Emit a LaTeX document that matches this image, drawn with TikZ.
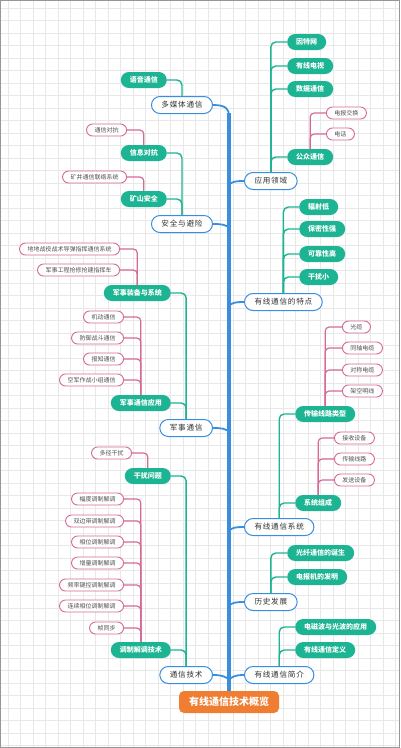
\documentclass[tikz,border=0pt]{standalone}
\usepackage{fontspec}
\setmainfont{Noto Sans CJK SC}
\newfontfamily\spacedcjk{Noto Sans CJK SC}[LetterSpace=10]
\definecolor{cblue}{RGB}{58,142,222}
\definecolor{cteal}{RGB}{28,180,146}
\definecolor{cpink}{RGB}{214,105,150}
\definecolor{corange}{RGB}{240,126,50}
\definecolor{cgrid}{RGB}{232,232,232}
\definecolor{cborder}{RGB}{150,150,150}
\definecolor{ctext}{RGB}{50,50,50}
\definecolor{csmall}{RGB}{80,80,80}
\pgfdeclarelayer{bg}
\pgfdeclarelayer{edges}
\pgfsetlayers{bg,edges,main}
\begin{document}
\begin{tikzpicture}[x=1pt,y=-1pt,
 lone/.style={draw=cblue, fill=white, line width=1pt, rounded corners=8.5pt, minimum height=17pt, inner xsep=10pt, inner ysep=0pt, font=\spacedcjk\fontsize{7.6}{9}\selectfont, text=ctext},
 ltwo/.style={fill=cteal, rounded corners=8pt, minimum height=16pt, inner xsep=9pt, inner ysep=0pt, font=\fontsize{7}{8}\selectfont\bfseries, text=white},
 lthree/.style={draw=cpink, fill=white, line width=0.9pt, rounded corners=6pt, minimum height=12pt, inner xsep=8pt, inner ysep=0pt, font=\fontsize{6}{7}\selectfont, text=csmall},
 rootn/.style={fill=corange, rounded corners=5pt, minimum height=22pt, inner xsep=10pt, inner ysep=0pt, font=\fontsize{10}{11}\selectfont\bfseries, text=white},
 eteal/.style={draw=cteal, line width=1.4pt, rounded corners=5pt},
 epink/.style={draw=cpink, line width=1.2pt, rounded corners=4pt},
 eblue/.style={draw=cblue, line width=1.8pt},
 espine/.style={draw=cblue, line width=4.5pt},
]
\useasboundingbox (0,0) rectangle (400,748);
\begin{pgfonlayer}{bg}
  \fill[white] (0,0) rectangle (400,748);
  \foreach \x in {8,20.5,...,400} \draw[cgrid, line width=0.6pt] (\x,0) -- (\x,748);
  \foreach \y in {8,20.5,...,748} \draw[cgrid, line width=0.6pt] (0,\y) -- (400,\y);
  \draw[cborder, line width=1pt] (0.5,0.5) rectangle (399.5,747.5);
\end{pgfonlayer}

% root
\node[rootn] (root) at (229,702) {有线通信技术概览};

% level 1
\node[lone, anchor=east] (m1) at (213,105) {多媒体通信};
\node[lone, anchor=east] (m3) at (213,224) {安全与避险};
\node[lone, anchor=east] (m5) at (213,428) {军事通信};
\node[lone, anchor=east] (m8) at (213,675) {通信技术};
\node[lone, anchor=west] (m2) at (244,181) {应用领域};
\node[lone, anchor=west] (m4) at (244,302) {有线通信的特点};
\node[lone, anchor=west] (m6) at (244,527) {有线通信系统};
\node[lone, anchor=west] (m7) at (244,602) {历史发展};
\node[lone, anchor=west] (m9) at (244,675) {有线通信简介};

% level 2 left
\node[ltwo, anchor=east] (a1) at (167,80) {语音通信};
\node[ltwo, anchor=east] (b1) at (167,153) {信息对抗};
\node[ltwo, anchor=east] (b2) at (167,199) {矿山安全};
\node[ltwo, anchor=east] (d1) at (171,293) {军事装备与系统};
\node[ltwo, anchor=east] (d2) at (171,403) {军事通信应用};
\node[ltwo, anchor=east] (g1) at (171,476) {干扰问题};
\node[ltwo, anchor=east] (g2) at (171,650) {调制解调技术};
% level 2 right
\node[ltwo, anchor=west] (c1) at (287,42) {因特网};
\node[ltwo, anchor=west] (c2) at (287,66) {有线电视};
\node[ltwo, anchor=west] (c3) at (287,89) {数据通信};
\node[ltwo, anchor=west] (c4) at (287,157) {公众通信};
\node[ltwo, anchor=west] (e1) at (299,207) {辐射低};
\node[ltwo, anchor=west] (e2) at (299,229) {保密性强};
\node[ltwo, anchor=west] (e3) at (299,254) {可靠性高};
\node[ltwo, anchor=west] (e4) at (299,277) {干扰小};
\node[ltwo, anchor=west] (f1) at (295,414) {传输线路类型};
\node[ltwo, anchor=west] (f2) at (295,503) {系统组成};
\node[ltwo, anchor=west] (h1) at (287,553) {光纤通信的诞生};
\node[ltwo, anchor=west] (h2) at (287,577) {电报机的发明};
\node[ltwo, anchor=west] (i1) at (295,627) {电磁波与光波的应用};
\node[ltwo, anchor=west] (i2) at (295,650) {有线通信定义};

% level 3
\node[lthree, anchor=west] (c4a) at (326,113) {电报交换};
\node[lthree, anchor=west] (c4b) at (326,134) {电话};
\node[lthree, anchor=east] (b1a) at (127,130) {通信对抗};
\node[lthree, anchor=east] (b2a) at (127,177) {矿井通信联络系统};
\node[lthree, anchor=east] (d1a) at (120,249) {地地战役战术导弹指挥通信系统};
\node[lthree, anchor=east] (d1b) at (120,270) {军事工程抢修抢建指挥车};
\node[lthree, anchor=east] (d2a) at (124,317) {机动通信};
\node[lthree, anchor=east] (d2b) at (124,338) {防御战斗通信};
\node[lthree, anchor=east] (d2c) at (124,359) {报知通信};
\node[lthree, anchor=east] (d2d) at (124,380) {空军作战小组通信};
\node[lthree, anchor=west] (f1a) at (342,327) {光缆};
\node[lthree, anchor=west] (f1b) at (342,348) {同轴电缆};
\node[lthree, anchor=west] (f1c) at (342,370) {对称电缆};
\node[lthree, anchor=west] (f1d) at (342,391) {架空明线};
\node[lthree, anchor=west] (f2a) at (334,438) {接收设备};
\node[lthree, anchor=west] (f2b) at (334,459) {传输线路};
\node[lthree, anchor=west] (f2c) at (334,480) {发送设备};
\node[lthree, anchor=east] (g1a) at (132,453) {多径干扰};
\node[lthree, anchor=east] (g2a) at (124,499) {幅度调制解调};
\node[lthree, anchor=east] (g2b) at (124,521) {双边带调制解调};
\node[lthree, anchor=east] (g2c) at (124,542) {相位调制解调};
\node[lthree, anchor=east] (g2d) at (124,563) {增量调制解调};
\node[lthree, anchor=east] (g2e) at (124,585) {频率键控调制解调};
\node[lthree, anchor=east] (g2f) at (124,606) {连续相位调制解调};
\node[lthree, anchor=east] (g2g) at (124,628) {帧同步};

% spine junctions
\coordinate (j1) at (229,116);
\coordinate (j2) at (229,184);
\coordinate (j3) at (229,227);
\coordinate (j4) at (229,305);
\coordinate (j5) at (229,431);
\coordinate (j6) at (229,530);
\coordinate (j7) at (229,605);
\coordinate (j8) at (229,679);
\coordinate (j9) at (229,679);
\coordinate (jtop) at (229,113);

\begin{pgfonlayer}{edges}
  \draw[espine] (root.north) -- (jtop);
  \draw[eblue] (m1.east) .. controls +(13,0) and +(0,-7) .. (j1);
  \draw[eblue] (m3.east) .. controls +(10,0) and +(-4,-2) .. (j3);
  \draw[eblue] (m5.east) .. controls +(10,0) and +(-4,-2) .. (j5);
  \draw[eblue] (m8.east) .. controls +(10,0) and +(-4,-2) .. (j8);
  \draw[eblue] (m2.west) .. controls +(-10,0) and +(4,-2) .. (j2);
  \draw[eblue] (m4.west) .. controls +(-10,0) and +(4,-2) .. (j4);
  \draw[eblue] (m6.west) .. controls +(-10,0) and +(4,-2) .. (j6);
  \draw[eblue] (m7.west) .. controls +(-10,0) and +(4,-2) .. (j7);
  \draw[eblue] (m9.west) .. controls +(-10,0) and +(4,-2) .. (j9);

  % level 1 -> level 2
  \foreach \c in {a1} \draw[eteal] (\c.east) -| (m1.north);
  \foreach \c in {b1,b2} \draw[eteal] (\c.east) -| (m3.north);
  \foreach \c in {d1,d2} \draw[eteal] (\c.east) -| (m5.north);
  \foreach \c in {g1,g2} \draw[eteal] (\c.east) -| (m8.north);
  \foreach \c in {c1,c2,c3,c4} \draw[eteal] (\c.west) -| (m2.north);
  \foreach \c in {e1,e2,e3,e4} \draw[eteal] (\c.west) -| (m4.north);
  \foreach \c in {f1,f2} \draw[eteal] (\c.west) -| (m6.north);
  \foreach \c in {h1,h2} \draw[eteal] (\c.west) -| (m7.north);
  \foreach \c in {i1,i2} \draw[eteal] (\c.west) -| (m9.north);

  % level 2 -> level 3
  \foreach \c in {c4a,c4b} \draw[epink] (\c.west) -| (c4.north);
  \draw[epink] (b1a.east) -| (b1.north);
  \draw[epink] (b2a.east) -| (b2.north);
  \foreach \c in {d1a,d1b} \draw[epink] (\c.east) -| (d1.north);
  \foreach \c in {d2a,d2b,d2c,d2d} \draw[epink] (\c.east) -| (d2.north);
  \foreach \c in {f1a,f1b,f1c,f1d} \draw[epink] (\c.west) -| (f1.north);
  \foreach \c in {f2a,f2b,f2c} \draw[epink] (\c.west) -| (f2.north);
  \draw[epink] (g1a.east) -| (g1.north);
  \foreach \c in {g2a,g2b,g2c,g2d,g2e,g2f,g2g} \draw[epink] (\c.east) -| (g2.north);
\end{pgfonlayer}
\end{tikzpicture}
\end{document}
